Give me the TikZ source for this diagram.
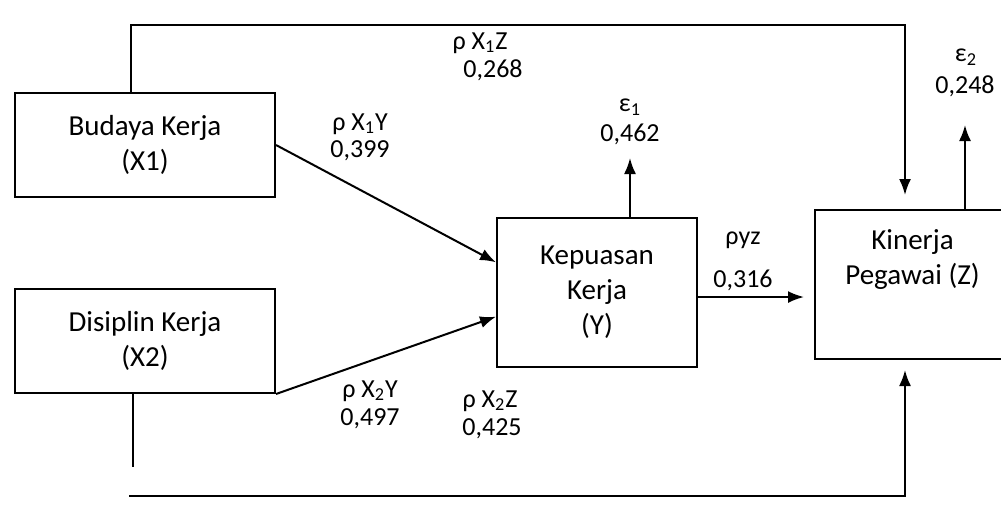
\documentclass[tikz,border=0pt]{standalone}
\usepackage{fontspec}
\setmainfont{Carlito}
\usetikzlibrary{arrows.meta,calc}

\tikzset{
  varbox/.style={draw,line width=1pt,rectangle,align=center,inner sep=0pt},
  link/.style={line width=1pt,-{Latex[length=8pt,width=6pt]}},
  plainlink/.style={line width=1pt},
  coef/.style={align=center,inner sep=0pt,font=\fontsize{13}{14}\selectfont}
}

\begin{document}
\begin{tikzpicture}[x=0.5pt,y=-0.5pt,font=\fontsize{14.5}{17.5}\selectfont]
  \useasboundingbox (0,0) rectangle (1001,504);
  % variables
  \node[varbox,minimum width=130pt,minimum height=52pt] (X1) at (145,145) {Budaya Kerja\\(X1)};
  \node[varbox,minimum width=130pt,minimum height=52pt] (X2) at (145,341) {Disiplin Kerja\\(X2)};
  \node[varbox,minimum width=100pt,minimum height=74.5pt] (Y) at (597,292.5) {Kepuasan\\Kerja\\(Y)};
  \node[varbox,minimum width=97.5pt,minimum height=74.5pt,
        label={[align=center,inner sep=0pt,anchor=north,yshift=-10pt]north:Kinerja\\Pegawai (Z)}] (Z) at (912.5,284.5) {};
  % turning points
  \coordinate (tl) at (131,25);
  \coordinate (tr) at (905,25);
  \coordinate (e1) at (630,158);
  \coordinate (e2) at (965,125);
  \coordinate (dl) at (133,467);
  \coordinate (bl) at (129,496);
  \coordinate (br) at (905,496);
  \coordinate (yz) at ($(Y.north east)!0.53!(Y.south east)$);
  % paths
  \draw[link,shorten >=7pt] (X1.north -| tl) -- (tl) -- (tr) -- (Z.north -| tr);
  \draw[link] (X1.east) -- ($(Y.north west)!0.30!(Y.south west)$);
  \draw[link] (X2.south east) -- ($(Y.north west)!0.66!(Y.south west)$);
  \draw[link,shorten >=5pt] (yz) -- (yz -| Z.west);
  \draw[link] (Y.north -| e1) -- (e1);
  \draw[link] (Z.north -| e2) -- (e2);
  \draw[plainlink] (X2.south -| dl) -- (dl);
  \draw[link,shorten >=5pt] (bl) -- (br) -- (Z.south -| br);
  % coefficients
  \node[coef] (px1z) at (480,43) {ρ X\textsubscript{1}Z};
  \node[coef] (vx1z) at (493,70) {0,268};
  \node[coef] (px1y) at (360,124) {ρ X\textsubscript{1}Y};
  \node[coef] (vx1y) at (360,151) {0,399};
  \node[coef] (eps1) at (630,107) {ε\textsubscript{1}};
  \node[coef] (veps1) at (630,134) {0,462};
  \node[coef] (pyz) at (743,240) {ρyz};
  \node[coef] (vyz) at (743,280) {0,316};
  \node[coef] (eps2) at (966,57) {ε\textsubscript{2}};
  \node[coef] (veps2) at (965,86) {0,248};
  \node[coef] (px2y) at (370,391) {ρ X\textsubscript{2}Y};
  \node[coef] (vx2y) at (370,419) {0,497};
  \node[coef] (px2z) at (490,401) {ρ X\textsubscript{2}Z};
  \node[coef] (vx2z) at (492,429) {0,425};
\end{tikzpicture}
\end{document}
